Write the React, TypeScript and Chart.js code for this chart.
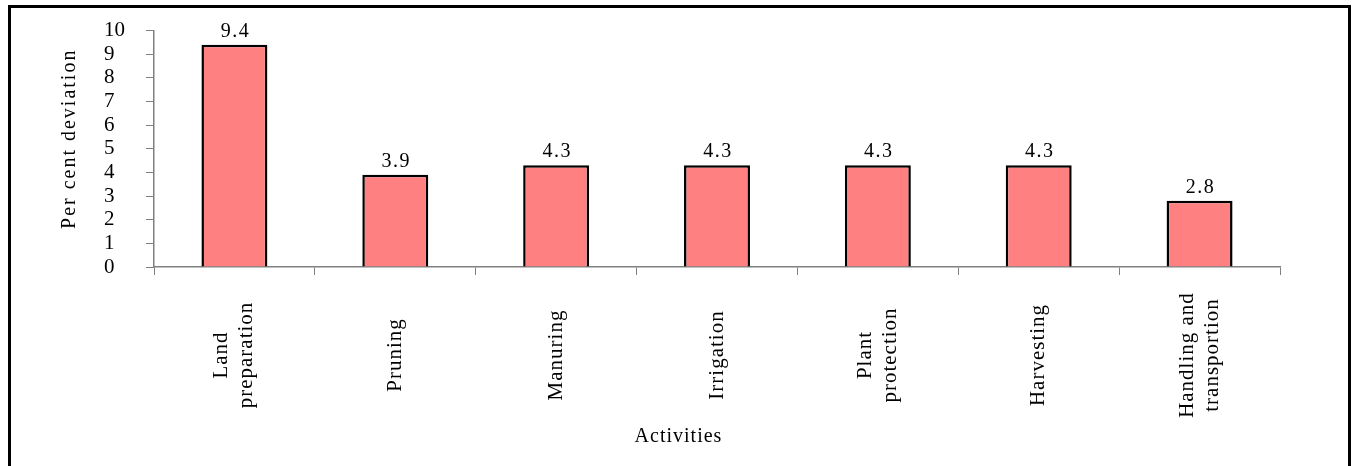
import React, { useEffect, useRef } from "react";
import { Chart, registerables } from "chart.js";

Chart.register(...registerables);

const categories: string[][] = [
  ["Land", "preparation"],
  ["Pruning"],
  ["Manuring"],
  ["Irrigation"],
  ["Plant", "protection"],
  ["Harvesting"],
  ["Handling and", "transportion"],
];
const values: number[] = [9.4, 3.9, 4.3, 4.3, 4.3, 4.3, 2.8];
const yMin = 0;
const yMax = 10;
const yStep = 1;
const xTitle = "Activities";
const yTitle = "Per cent deviation";

const FONT = "'Liberation Serif', 'Times New Roman', serif";

const textPlugin = {
  id: "customText",
  afterDatasetsDraw(chart: any) {
    const ctx: CanvasRenderingContext2D = chart.ctx;
    const meta = chart.getDatasetMeta(0);
    const xs = chart.scales.x;
    const area = chart.chartArea;
    ctx.save();
    ctx.fillStyle = "#000";
    ctx.font = `20px ${FONT}`;
    (ctx as any).letterSpacing = "1.5px";
    ctx.textAlign = "center";
    ctx.textBaseline = "alphabetic";
    meta.data.forEach((bar: any, i: number) => {
      ctx.fillText(values[i].toFixed(1), bar.x + 1, bar.y - 8);
    });

    ctx.font = `21px ${FONT}`;
    (ctx as any).letterSpacing = "1px";
    categories.forEach((lines, i) => {
      const x = xs.getPixelForValue(i);
      ctx.save();
      ctx.translate(x, xs.top + 88);
      ctx.rotate(-Math.PI / 2);
      ctx.textAlign = "center";
      ctx.textBaseline = "middle";
      lines.forEach((l, j) => {
        ctx.fillText(l, 0, (j - (lines.length - 1) / 2) * 25);
      });
      ctx.restore();
    });

    // x title
    ctx.font = `20px ${FONT}`;
    ctx.textAlign = "center";
    ctx.textBaseline = "middle";
    ctx.fillText(xTitle, chart.width / 2 + 2, 437);

    // y title
    (ctx as any).letterSpacing = "2px";
    ctx.save();
    ctx.translate(70, (area.top + area.bottom) / 2 - 10);
    ctx.rotate(-Math.PI / 2);
    ctx.textAlign = "center";
    ctx.textBaseline = "middle";
    ctx.fillText(yTitle, 0, 0);
    ctx.restore();
    ctx.restore();
  },
};

export default function App() {
  const canvasRef = useRef<HTMLCanvasElement | null>(null);

  useEffect(() => {
    if (!canvasRef.current) return;
    const chart = new Chart(canvasRef.current, {
      type: "bar",
      data: {
        labels: categories.map((c) => c.join(" ")),
        datasets: [
          {
            data: values,
            backgroundColor: "#FF8080",
            borderColor: "#000000",
            borderWidth: 2.5,
            barPercentage: 0.41,
            categoryPercentage: 1,
          },
        ],
      },
      options: {
        animation: false,
        responsive: false,
        maintainAspectRatio: false,
        layout: { padding: { left: 104, right: 73, top: 30, bottom: 0 } },
        plugins: {
          legend: { display: false },
          tooltip: { enabled: false },
          title: { display: false },
        },
        scales: {
          x: {
            afterFit: (s: any) => {
              s.height = 199;
            },
            ticks: { display: false },
            grid: {
              display: true,
              drawOnChartArea: false,
              drawTicks: true,
              tickLength: 8,
              color: "#808080",
              lineWidth: 1,
              offset: true,
            },
            border: { display: true, color: "#808080", width: 1.5 },
          },
          y: {
            min: yMin,
            max: yMax,
            afterFit: (s: any) => {
              s.width = 50;
            },
            ticks: {
              stepSize: yStep,
              autoSkip: false,
              crossAlign: "far",
              color: "#000",
              font: { family: FONT, size: 21 },
              padding: 18,
            },
            grid: {
              display: true,
              drawOnChartArea: false,
              drawTicks: true,
              tickLength: 8,
              color: "#808080",
              lineWidth: 1,
            },
            border: { display: true, color: "#808080", width: 1.5 },
          },
        },
      },
      plugins: [textPlugin],
    });
    return () => chart.destroy();
  }, []);

  return (
    <div
      style={{
        position: "fixed",
        left: 0,
        top: 0,
        width: 1353,
        height: 466,
        overflow: "hidden",
        background: "#fff",
      }}
    >
      <canvas
        ref={canvasRef}
        width={1353}
        height={466}
        style={{ position: "absolute", left: 0, top: 0, width: 1353, height: 466 }}
      />
      <div
        style={{
          position: "absolute",
          left: 8,
          top: 5,
          width: 1343,
          height: 480,
          border: "3px solid #000",
          boxSizing: "border-box",
          pointerEvents: "none",
        }}
      />
    </div>
  );
}
